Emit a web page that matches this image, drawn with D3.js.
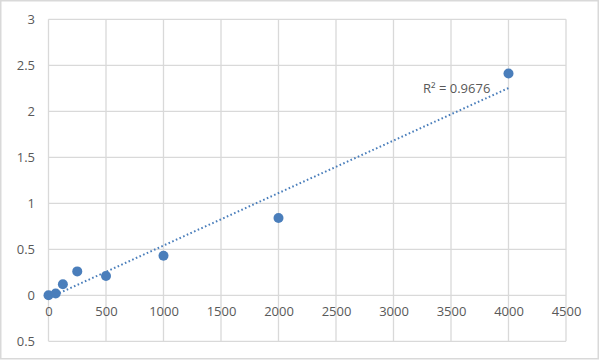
<!DOCTYPE html>
<html><head><meta charset="utf-8">
<script src="https://cdn.jsdelivr.net/npm/d3@7"></script>
<style>body{margin:0;background:#fff}svg{display:block}</style>
</head><body>
<svg id="c" width="600" height="361"></svg>
<script>
const xValues = [0, 62.5, 125, 250, 500, 1000, 2000, 4000];
const yValues = [0, 0.02, 0.12, 0.26, 0.21, 0.43, 0.84, 2.41];
const xTicks = [0, 500, 1000, 1500, 2000, 2500, 3000, 3500, 4000, 4500];
const yTicks = [-0.5, 0, 0.5, 1, 1.5, 2, 2.5, 3];
const yTickLabels = ["0.5", "0", "0.5", "1", "1.5", "2", "2.5", "3"];
const r2Label = "R² = 0.9676";

const svg = d3.select("#c");
const grid = "#d9d9d9", blue = "#4a7ebb", txt = "#595959";
const font = "'Open Sans', 'DejaVu Sans', sans-serif";

svg.append("rect").attr("x",0.75).attr("y",0.75).attr("width",597.5).attr("height",358)
  .attr("fill","#fff").attr("stroke",grid).attr("stroke-width",1.5);

const x = d3.scaleLinear().domain([0,4500]).range([48.5,566]);
const y = d3.scaleLinear().domain([-0.5,3]).range([341.3,19.3]);

// gridlines
svg.append("g").selectAll("line").data(yTicks).join("line")
  .attr("x1",x(0)).attr("x2",x(4500)).attr("y1",d=>y(d)).attr("y2",d=>y(d))
  .attr("stroke",grid).attr("stroke-width",1.3);
svg.append("g").selectAll("line").data(xTicks).join("line")
  .attr("y1",y(3)).attr("y2",y(-0.5)).attr("x1",d=>x(d)).attr("x2",d=>x(d))
  .attr("stroke",grid).attr("stroke-width",1.3);

// axis labels
const yAxis = d3.axisLeft(y).tickValues(yTicks).tickSize(0).tickPadding(0)
  .tickFormat((d,i)=>yTickLabels[i]);
const ga = svg.append("g").attr("transform","translate(35,0)").call(yAxis);
ga.select(".domain").remove();
ga.selectAll("text").attr("fill",txt).style("font-family",font).style("font-size","13px");

const xAxis = d3.axisBottom(x).tickValues(xTicks).tickSize(0).tickPadding(0)
  .tickFormat(d3.format("d"));
const gx = svg.append("g").attr("transform",`translate(0,${y(0)+11})`).call(xAxis);
gx.select(".domain").remove();
gx.selectAll("text").attr("fill",txt).style("font-family",font).style("font-size","13px");

// linear trendline (least squares)
const n = xValues.length;
const mx = d3.mean(xValues), my = d3.mean(yValues);
let sxy=0, sxx=0;
for (let i=0;i<n;i++){ sxy += (xValues[i]-mx)*(yValues[i]-my); sxx += (xValues[i]-mx)**2; }
const slope = sxy/sxx, icpt = my - slope*mx;
const xMin = d3.min(xValues), xMax = d3.max(xValues);
svg.append("line")
  .attr("x1",x(xMin)).attr("y1",y(icpt+slope*xMin))
  .attr("x2",x(xMax)).attr("y2",y(icpt+slope*xMax))
  .attr("stroke",blue).attr("stroke-width",2).attr("stroke-dasharray","1.6,2.4");

// points
svg.append("g").selectAll("circle").data(xValues).join("circle")
  .attr("cx",d=>x(d)).attr("cy",(d,i)=>y(yValues[i])).attr("r",5).attr("fill",blue);

svg.append("text").attr("x",423).attr("y",93).text(r2Label)
  .attr("fill",txt).style("font-family",font).style("font-size","13px");
</script>
</body></html>
